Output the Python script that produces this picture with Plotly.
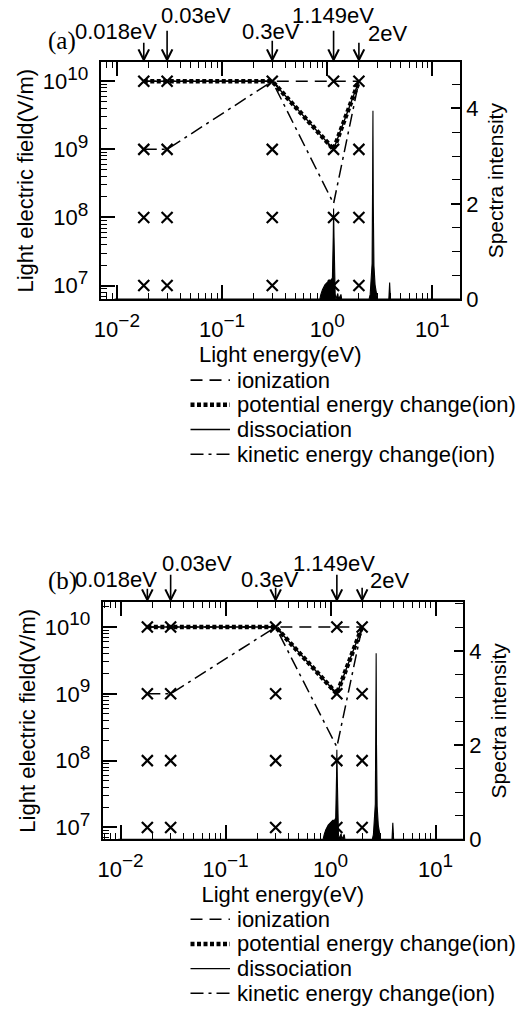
import math
import plotly.graph_objects as go

W, H = 523, 1029

# ---------------- data ----------------
energies = [0.018, 0.03, 0.3, 1.149, 2.0]          # eV
energy_labels = ["0.018eV", "0.03eV", "0.3eV", "1.149eV", "2eV"]
field_levels = [1e7, 1e8, 1e9, 1e10]               # V/m

ionization = [1e10, 1e10, 1e10, 1e10, 1e10]
potential = [1e10, 1e10, 1e10, 1e9, 1e10]
dissociation = [1e10, 1e10, 1e10, 1e9, 1e10]
kinetic = [1e9, 1e9, 1e10, 1.6e8, 1e10]

spec_e = [0.0095, 0.85, 0.87, 0.90, 0.95, 1.00, 1.05, 1.09, 1.12, 1.14, 1.149, 1.16, 1.175,
          1.19, 1.21, 1.26, 1.28, 1.35, 1.37, 1.40,
          2.50, 2.56, 2.62, 2.67, 2.70, 2.72, 2.74, 2.78, 2.85, 2.95, 3.00,
          3.85, 3.92, 3.99, 20.0]
spec_i = [0, 0, 0.1, 0.2, 0.3, 0.35, 0.4, 0.4, 0.45, 1.3, 1.9, 1.3, 0.4,
          0.1, 0, 0.12, 0, 0.1, 0, 0,
          0, 0.1, 0.5, 0.75, 2.5, 3.95, 2.0, 0.7, 0.3, 0.05, 0,
          0, 0.35, 0, 0]

x_tickvals = [0.01, 0.1, 1, 10]
x_exponents = ["−2", "−1", "0", "1"]
y_tickvals = [1e7, 1e8, 1e9, 1e10]
y_exponents = ["7", "8", "9", "10"]
x_minor = [k * 10.0 ** n for n in range(-3, 2) for k in range(2, 10)]
y_minor = [k * 10.0 ** n for n in range(6, 11) for k in range(2, 10)]

SANS = "Liberation Sans, Arial, Helvetica, sans-serif"
SERIF = "Liberation Serif, Times New Roman, serif"
FS = 22


def pow10(exp):
    return '10<sup><span style="font-size:19px">' + exp + "</span></sup>"


x_ticktext = [pow10(e) for e in x_exponents]
y_ticktext = [pow10(e) for e in y_exponents]

series = [
    ("ionization", ionization, dict(color="black", width=1.6, dash="12px,7px")),
    ("potential energy change(ion)", potential, dict(color="black", width=4.5, dash="4px,2.5px")),
    ("dissociation", dissociation, dict(color="black", width=1.4)),
    ("kinetic energy change(ion)", kinetic, dict(color="black", width=1.5, dash="13px,5px,3px,5px")),
]
draw_order = [2, 1, 0, 3]


def px_x(v):
    return v / W


def px_y(v):
    return 1 - v / H


panels = [
    dict(tag="(a)", x="x", y="y", y2="y2", xa="xaxis", ya="yaxis", ya2="yaxis2",
         left=95, right=459, top=63, bottom=303,
         xr=[-2.154, 1.261], yr=[6.8, 10.28], y2r=[0, 4.97],
         lab_x=[110, 192, 268, 330, 386], lab_y=[32, 16, 32, 16, 34],
         arr_len=[21, 33, 23, 33, 21], tag_xy=(56, 42),
         leg_y=[385, 410, 435, 460]),
    dict(tag="(b)", x="x2", y="y3", y2="y4", xa="xaxis2", ya="yaxis3", ya2="yaxis4",
         left=97, right=462, top=610, bottom=850,
         xr=[-2.17, 1.26], yr=[6.823, 10.37], y2r=[0, 5.03],
         lab_x=[110, 193, 267, 331, 388], lab_y=[587, 571, 587, 571, 588],
         arr_len=[15, 29, 16, 29, 16], tag_xy=(56, 588),
         leg_y=[931, 956, 981, 1006]),
]

fig = go.Figure()
annotations = []
shapes = []
layout = {}

for p in panels:
    for i in draw_order:
        name, vals, ln = series[i]
        fig.add_trace(go.Scatter(x=energies, y=vals, name=name, mode="lines",
                                 xaxis=p["x"], yaxis=p["y"], line=ln, showlegend=False))
    gx = [e for f in field_levels for e in energies]
    gy = [f for f in field_levels for e in energies]
    fig.add_trace(go.Scatter(x=gx, y=gy, mode="markers", showlegend=False, name="calculated",
                             xaxis=p["x"], yaxis=p["y"],
                             marker=dict(symbol="x-thin", size=11, color="black",
                                         line=dict(color="black", width=2.2))))
    fig.add_trace(go.Scatter(x=spec_e, y=spec_i, mode="lines", showlegend=False,
                             name="spectrum", xaxis=p["x"], yaxis=p["y2"], fill="tozeroy",
                             fillcolor="black", line=dict(color="black", width=1.1)))

    xdom = [px_x(p["left"]), px_x(p["right"])]
    ydom = [px_y(p["bottom"]), px_y(p["top"])]
    tickfont = dict(family=SANS, size=FS, color="black")
    layout[p["xa"]] = dict(
        type="log", range=p["xr"], domain=xdom, anchor=p["y"],
        showline=True, linecolor="black", linewidth=2, mirror="ticks",
        ticks="inside", ticklen=14, tickwidth=1.6, tickcolor="black",
        tickmode="array", tickvals=x_tickvals, ticktext=x_ticktext,
        ticklabelstandoff=9,
        showgrid=False, zeroline=False, tickfont=tickfont,
        minor=dict(ticks="inside", ticklen=6, tickwidth=1.2, tickcolor="black",
                   tickmode="array", tickvals=x_minor, showgrid=False),
        title=dict(text="Light energy(eV)", font=dict(family=SANS, size=FS, color="black"),
                   standoff=0),
    )
    layout[p["ya"]] = dict(
        type="log", range=p["yr"], domain=ydom, anchor=p["x"],
        showline=True, linecolor="black", linewidth=2, mirror=False,
        ticks="inside", ticklen=14, tickwidth=1.6, tickcolor="black",
        tickmode="array", tickvals=y_tickvals, ticktext=y_ticktext,
        ticklabelstandoff=6,
        showgrid=False, zeroline=False, tickfont=tickfont,
        minor=dict(ticks="inside", ticklen=6, tickwidth=1.2, tickcolor="black",
                   tickmode="array", tickvals=y_minor, showgrid=False),
        title=dict(text="Light electric field(V/m)",
                   font=dict(family=SANS, size=FS, color="black"), standoff=3),
    )
    layout[p["ya2"]] = dict(
        range=p["y2r"], overlaying=p["y"], side="right", anchor=p["x"],
        showline=True, linecolor="black", linewidth=2,
        ticks="inside", ticklen=9, tickwidth=1.6, tickcolor="black",
        dtick=2, showgrid=False, zeroline=False, tickfont=tickfont,
        minor=dict(ticks="inside", ticklen=8, tickwidth=1.4, tickcolor="black",
                   dtick=0.5, showgrid=False),
        title=dict(text="Spectra intensity", font=dict(family=SANS, size=21, color="black"),
                   standoff=11),
    )

    # legend drawn below each panel
    for (name, _, ln), yc in zip(series, p["leg_y"]):
        shapes.append(dict(type="line", xref="paper", yref="paper",
                           x0=px_x(186), x1=px_x(226), y0=px_y(yc), y1=px_y(yc),
                           line=ln))
        annotations.append(dict(x=px_x(231), y=px_y(yc), xref="paper", yref="paper",
                                text=name, showarrow=False, xanchor="left",
                                yanchor="middle",
                                font=dict(family=SANS, size=FS, color="black")))

    # energy markers above the panel
    for e, lab, lx, ly, L in zip(energies, energy_labels, p["lab_x"], p["lab_y"], p["arr_len"]):
        annotations.append(dict(
            x=math.log10(e), xref=p["x"], y=px_y(p["top"]), yref="paper",
            text="", showarrow=True, ax=0, ay=-L, arrowhead=5, arrowsize=1.3,
            arrowwidth=1.6, arrowcolor="black"))
        annotations.append(dict(
            x=px_x(lx), y=px_y(ly), xref="paper", yref="paper", text=lab,
            showarrow=False, xanchor="center", yanchor="middle",
            font=dict(family=SANS, size=FS, color="black")))
    annotations.append(dict(
        x=px_x(p["tag_xy"][0]), y=px_y(p["tag_xy"][1]), xref="paper", yref="paper",
        text=p["tag"], showarrow=False, xanchor="center", yanchor="middle",
        font=dict(family=SERIF, size=25, color="black")))

fig.update_layout(
    width=W, height=H, margin=dict(l=0, r=0, t=0, b=0),
    paper_bgcolor="white", plot_bgcolor="white", showlegend=False,
    annotations=annotations, shapes=shapes, **layout,
)

fig.write_html("out.html")
